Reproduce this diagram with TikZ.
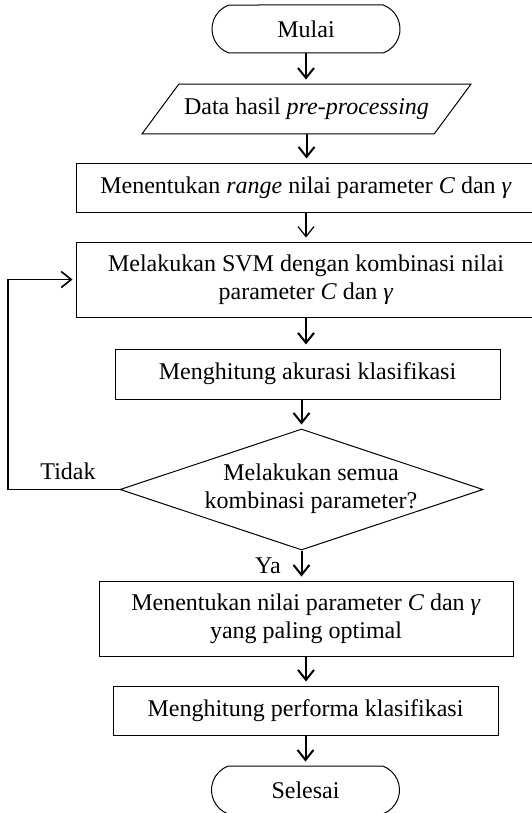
\documentclass[tikz,border=0pt]{standalone}
\usepackage{fontspec}
\setmainfont{Liberation Serif}
\usetikzlibrary{arrows.meta,shapes.geometric,shapes.misc}

\tikzset{
  terminal/.style={draw, line width=0.5pt, rounded rectangle, rounded rectangle arc length=140,
    minimum width=94pt, minimum height=24pt, inner sep=0pt},
  io/.style={draw, line width=0.5pt, trapezium, trapezium left angle=53.5, trapezium right angle=126.5,
    trapezium stretches body, minimum width=164.5pt, inner xsep=0pt, inner ysep=7pt},
  process/.style={draw, line width=0.5pt, rectangle, align=center, inner sep=0pt},
  decision/.style={draw, line width=0.5pt, diamond, minimum width=181.5pt, minimum height=60.5pt, inner sep=0pt},
  flow/.style={-{Straight Barb[length=5pt,width=8pt]}, line width=1pt, shorten >=2pt},
}

\begin{document}
\begin{tikzpicture}[x=0.5pt, y=-0.5pt, font=\fontsize{12pt}{14pt}\selectfont]
  \useasboundingbox (0,0) rectangle (531,813);
  \node[terminal] (mulai) at (306,29) {Mulai};
  \node[io] (data) at (306.5,109) {Data hasil \textit{pre-processing}};
  \node[process, minimum width=230pt, minimum height=24.5pt] (range) at (306,187.5)
    {Menentukan \textit{range} nilai parameter \textit{C} dan \textit{γ}};
  \node[process, minimum width=230pt, minimum height=37.5pt] (svm) at (306,279.5)
    {Melakukan SVM dengan kombinasi nilai\\parameter \textit{C} dan \textit{γ}};
  \node[process, minimum width=192.5pt, minimum height=25pt] (akurasi) at (307.5,374)
    {Menghitung akurasi klasifikasi};
  \node[decision] (cek) at (301.5,489.5) {};
  \node[align=center, inner sep=0pt] (cektext) at (311,489) {Melakukan semua\\kombinasi parameter?};
  \node[process, minimum width=207pt, minimum height=37.5pt] (optimal) at (306,618.5)
    {Menentukan nilai parameter \textit{C} dan \textit{γ}\\yang paling optimal};
  \node[process, minimum width=192.5pt, minimum height=24.5pt] (performa) at (305.5,710.5)
    {Menghitung performa klasifikasi};
  \node[terminal] (selesai) at (305.5,790) {Selesai};
  \node[inner sep=0pt] (tidak) at (68,471) {Tidak};
  \node[inner sep=0pt] (ya) at (268,566) {Ya};
  \coordinate (balik) at (8,489.5);

  % alur utama
  \draw[flow] (mulai.south) -- (mulai.south |- data.north);
  \draw[flow] (data.south) -- (data.south |- range.north);
  \draw[flow, line width=0.6pt] (range.south) -- (range.south |- svm.north);
  \draw[flow] (svm.south) -- (svm.south |- akurasi.north);
  \draw[flow] (cek.north |- akurasi.south) -- (cek.north);
  \draw[flow] (cek.south) -- (cek.south |- optimal.north);
  \draw[flow] (optimal.south) -- (optimal.south |- performa.north);
  \draw[flow] (performa.south) -- (performa.south |- selesai.north);

  % kembali ke SVM
  \draw[line width=0.5pt] (cek.west) -- (balik);
  \draw[flow, line width=0.8pt, shorten >=1.5pt] (balik) |- (svm.west);
\end{tikzpicture}
\end{document}
